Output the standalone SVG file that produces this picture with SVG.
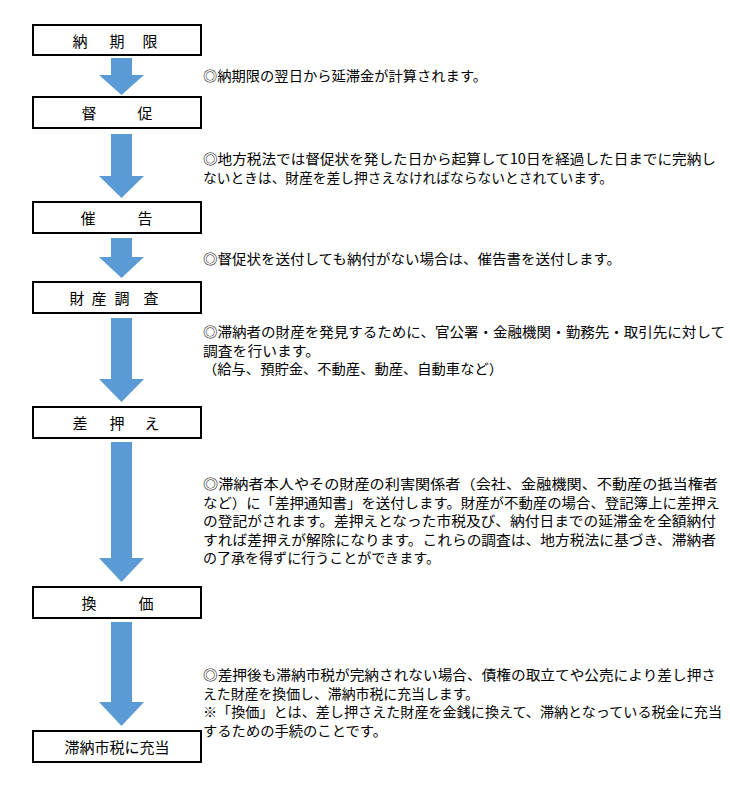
<svg xmlns="http://www.w3.org/2000/svg" width="730" height="803" viewBox="0 0 730 803">
<style>
.box{fill:#fff;stroke:#000;stroke-width:2}
.lbl{font-family:"Noto Sans CJK JP","Noto Sans",sans-serif;font-size:15px;fill:#000;text-anchor:middle}
.txt{font-family:"Noto Sans CJK JP","Noto Sans",sans-serif;font-size:13.8px;fill:#000}
.arr{fill:#5B9BD5}
</style>
<rect width="730" height="803" fill="#fff"/>
<g id="connectors">
<path class="arr" d="M111,58 H132 V75 H144 L121.5,95 L99,75 H111 Z"/>
<path class="arr" d="M111,134 H132 V176 H144 L121.5,198 L99,176 H111 Z"/>
<path class="arr" d="M111,238 H132 V257 H144 L121.5,278 L99,257 H111 Z"/>
<path class="arr" d="M111,318 H132 V379 H144 L121.5,402 L99,379 H111 Z"/>
<path class="arr" d="M111,442 H132 V558 H144 L121.5,582 L99,558 H111 Z"/>
<path class="arr" d="M111,622 H132 V702 H144 L121.5,726 L99,702 H111 Z"/>
</g>
<g id="n1"><rect class="box" x="33" y="25" width="168" height="30"/><text class="lbl" x="80 117 150" y="47">納期限</text></g>
<g id="n2"><rect class="box" x="33" y="97" width="168" height="31"/><text class="lbl" x="89 145" y="119">督促</text></g>
<g id="n3"><rect class="box" x="33" y="202" width="168" height="31"/><text class="lbl" x="88 145" y="224">催告</text></g>
<g id="n4"><rect class="box" x="33" y="282" width="168" height="31"/><text class="lbl" x="77 99 122 151" y="304">財産調査</text></g>
<g id="n5"><rect class="box" x="33" y="407" width="168" height="31"/><text class="lbl" x="80 117 152" y="429">差押え</text></g>
<g id="n6"><rect class="box" x="33" y="587" width="168" height="31"/><text class="lbl" x="89 146" y="609">換価</text></g>
<g id="n7"><rect class="box" x="33" y="731" width="168" height="31"/><text class="lbl" x="117" y="753">滞納市税に充当</text></g>
<g id="notes">
<text class="txt" x="203" y="81" textLength="284" lengthAdjust="spacingAndGlyphs">◎納期限の翌日から延滞金が計算されます。</text>
<text class="txt"><tspan x="203" y="164" textLength="513" lengthAdjust="spacingAndGlyphs">◎地方税法では督促状を発した日から起算して10日を経過した日までに完納し</tspan><tspan x="203" y="183" textLength="410" lengthAdjust="spacingAndGlyphs">ないときは、財産を差し押さえなければならないとされています。</tspan></text>
<text class="txt" x="203" y="264" textLength="418" lengthAdjust="spacingAndGlyphs">◎督促状を送付しても納付がない場合は、催告書を送付します。</text>
<text class="txt"><tspan x="203" y="337" textLength="522" lengthAdjust="spacingAndGlyphs">◎滞納者の財産を発見するために、官公署・金融機関・勤務先・取引先に対して</tspan><tspan x="203" y="355.5" textLength="117" lengthAdjust="spacingAndGlyphs">調査を行います。</tspan><tspan x="203" y="374" textLength="300" lengthAdjust="spacingAndGlyphs">（給与、預貯金、不動産、動産、自動車など）</tspan></text>
<text class="txt"><tspan x="203" y="489" textLength="515" lengthAdjust="spacingAndGlyphs">◎滞納者本人やその財産の利害関係者（会社、金融機関、不動産の抵当権者</tspan><tspan x="203" y="507.5" textLength="517" lengthAdjust="spacingAndGlyphs">など）に「差押通知書」を送付します。財産が不動産の場合、登記簿上に差押え</tspan><tspan x="203" y="526" textLength="513" lengthAdjust="spacingAndGlyphs">の登記がされます。差押えとなった市税及び、納付日までの延滞金を全額納付</tspan><tspan x="203" y="544.5" textLength="513" lengthAdjust="spacingAndGlyphs">すれば差押えが解除になります。これらの調査は、地方税法に基づき、滞納者</tspan><tspan x="203" y="563" textLength="237" lengthAdjust="spacingAndGlyphs">の了承を得ずに行うことができます。</tspan></text>
<text class="txt"><tspan x="203" y="680" textLength="513" lengthAdjust="spacingAndGlyphs">◎差押後も滞納市税が完納されない場合、債権の取立てや公売により差し押さ</tspan><tspan x="203" y="698.5" textLength="276" lengthAdjust="spacingAndGlyphs">えた財産を換価し、滞納市税に充当します。</tspan><tspan x="203" y="717" textLength="519" lengthAdjust="spacingAndGlyphs">※「換価」とは、差し押さえた財産を金銭に換えて、滞納となっている税金に充当</tspan><tspan x="203" y="735.5" textLength="184" lengthAdjust="spacingAndGlyphs">するための手続のことです。</tspan></text>
</g>
</svg>
